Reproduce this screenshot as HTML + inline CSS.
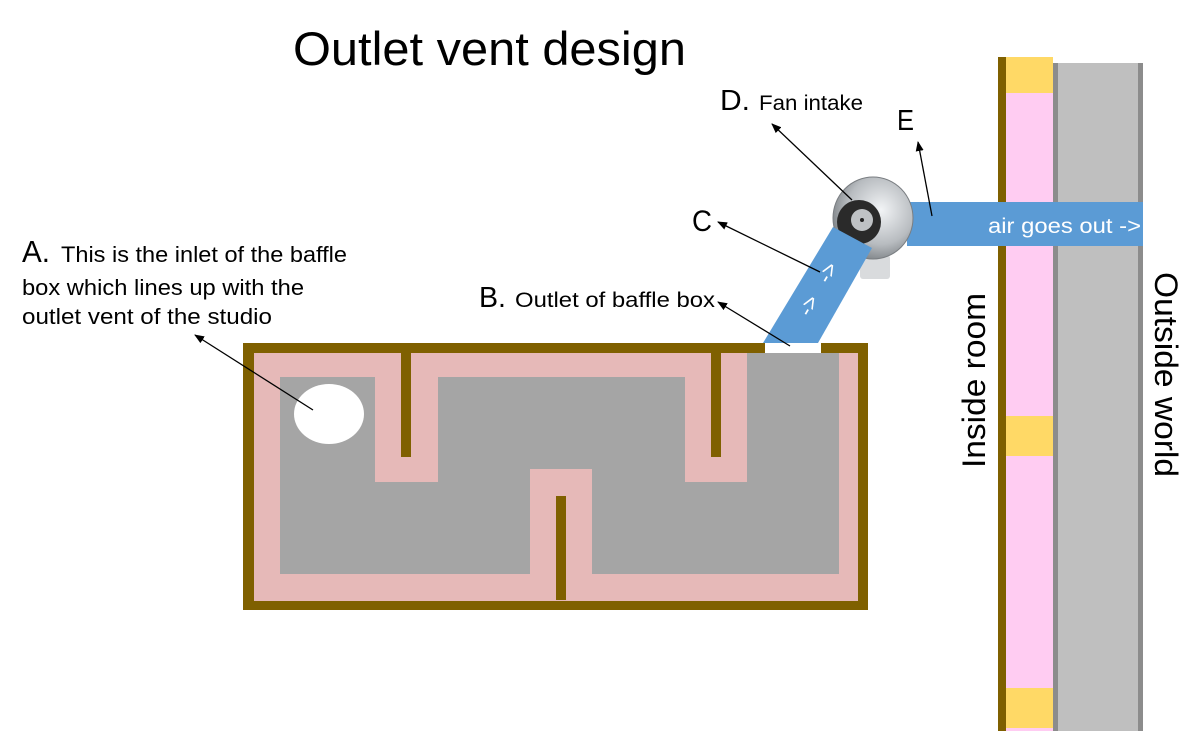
<!DOCTYPE html>
<html><head><meta charset="utf-8"><style>
html,body{margin:0;padding:0;background:#fff;}
svg{display:block;}
text{font-family:"Liberation Sans",sans-serif;fill:#000;}
</style></head><body>
<svg width="1200" height="731" viewBox="0 0 1200 731" xmlns="http://www.w3.org/2000/svg">
<defs>
<marker id="ah" markerWidth="10" markerHeight="8" refX="9" refY="4" orient="auto" markerUnits="userSpaceOnUse">
<path d="M0,0 L10,4 L0,8 z" fill="#000"/>
</marker>
<radialGradient id="fanG" cx="0.6" cy="0.4" r="0.7">
<stop offset="0" stop-color="#f2f4f6"/>
<stop offset="0.6" stop-color="#b8bcc0"/>
<stop offset="1" stop-color="#6d7276"/>
</radialGradient>
</defs>

<text x="293" y="65" font-size="47" textLength="393" lengthAdjust="spacingAndGlyphs">Outlet vent design</text>

<rect x="998" y="57" width="8" height="674" fill="#7f6000"/>
<rect x="1006" y="57" width="47" height="674" fill="#ffccf2"/>
<rect x="1006" y="57" width="47" height="36" fill="#ffd966"/>
<rect x="1006" y="416" width="47" height="40" fill="#ffd966"/>
<rect x="1006" y="688" width="47" height="40" fill="#ffd966"/>
<rect x="1053" y="63" width="90" height="668" fill="#bfbfbf"/>
<rect x="1053" y="63" width="5" height="668" fill="#8c8c8c"/>
<rect x="1138" y="63" width="5" height="668" fill="#8c8c8c"/>

<rect x="907" y="202" width="236" height="44" fill="#5b9bd5"/>
<text x="988" y="233" font-size="21" style="fill:#fff" textLength="153" lengthAdjust="spacingAndGlyphs">air goes out -&gt;</text>

<rect x="860" y="255" width="30" height="24" rx="3" fill="#d9dbdd"/>
<ellipse cx="873" cy="218" rx="40" ry="41" fill="url(#fanG)" stroke="#7a7e82" stroke-width="1"/>
<circle cx="859" cy="222" r="22" fill="#2a2a2a"/>
<circle cx="862" cy="220" r="11" fill="#bfc2c5"/>
<circle cx="862" cy="220" r="2" fill="#222"/>

<polygon points="763,343 818,343 872,248 833,227" fill="#5b9bd5"/>
<text font-size="22" style="fill:#fff" transform="translate(829,285) rotate(-60)">-&gt;</text>
<text font-size="22" style="fill:#fff" transform="translate(810,318) rotate(-60)">-&gt;</text>

<rect x="243" y="343" width="625" height="267" fill="#7f6000"/>
<rect x="254" y="353" width="604" height="248" fill="#e6b9b8"/>
<polygon points="280,377 375,377 375,482 438,482 438,377 685,377 685,482 747,482 747,353 839,353 839,574 592,574 592,469 530,469 530,574 280,574" fill="#a5a5a5"/>
<rect x="401" y="353" width="10" height="104" fill="#7f6000"/>
<rect x="711" y="353" width="10" height="104" fill="#7f6000"/>
<rect x="556" y="496" width="10" height="104" fill="#7f6000"/>
<rect x="765" y="343" width="56" height="10" fill="#fff"/>
<ellipse cx="329" cy="414" rx="35" ry="30" fill="#fff"/>

<text x="22" y="262" font-size="31" textLength="28" lengthAdjust="spacingAndGlyphs">A.</text>
<text x="61" y="262" font-size="22" textLength="286" lengthAdjust="spacingAndGlyphs">This is the inlet of the baffle</text>
<text x="22" y="295" font-size="22" textLength="282" lengthAdjust="spacingAndGlyphs">box which lines up with the</text>
<text x="22" y="324" font-size="22" textLength="250" lengthAdjust="spacingAndGlyphs">outlet vent of the studio</text>

<text x="479" y="307" font-size="29" textLength="27" lengthAdjust="spacingAndGlyphs">B.</text>
<text x="515" y="307" font-size="21" textLength="200" lengthAdjust="spacingAndGlyphs">Outlet of baffle box</text>

<text x="692" y="231" font-size="30" textLength="20" lengthAdjust="spacingAndGlyphs">C</text>
<text x="720" y="110" font-size="29" textLength="30" lengthAdjust="spacingAndGlyphs">D.</text>
<text x="759" y="110" font-size="21" textLength="104" lengthAdjust="spacingAndGlyphs">Fan intake</text>
<text x="897" y="130" font-size="29" textLength="17" lengthAdjust="spacingAndGlyphs">E</text>

<text font-size="32" transform="translate(985,468) rotate(-90)" textLength="175" lengthAdjust="spacingAndGlyphs">Inside room</text>
<text font-size="32" transform="translate(1155,272) rotate(90)" textLength="205" lengthAdjust="spacingAndGlyphs">Outside world</text>

<g stroke="#000" stroke-width="1.3" fill="none" marker-end="url(#ah)">
<line x1="313" y1="410" x2="195" y2="335"/>
<line x1="790" y1="346" x2="718" y2="302"/>
<line x1="820" y1="272" x2="718" y2="222"/>
<line x1="852" y1="200" x2="772" y2="124"/>
<line x1="932" y1="216" x2="918" y2="142"/>
</g>
</svg>
</body></html>
